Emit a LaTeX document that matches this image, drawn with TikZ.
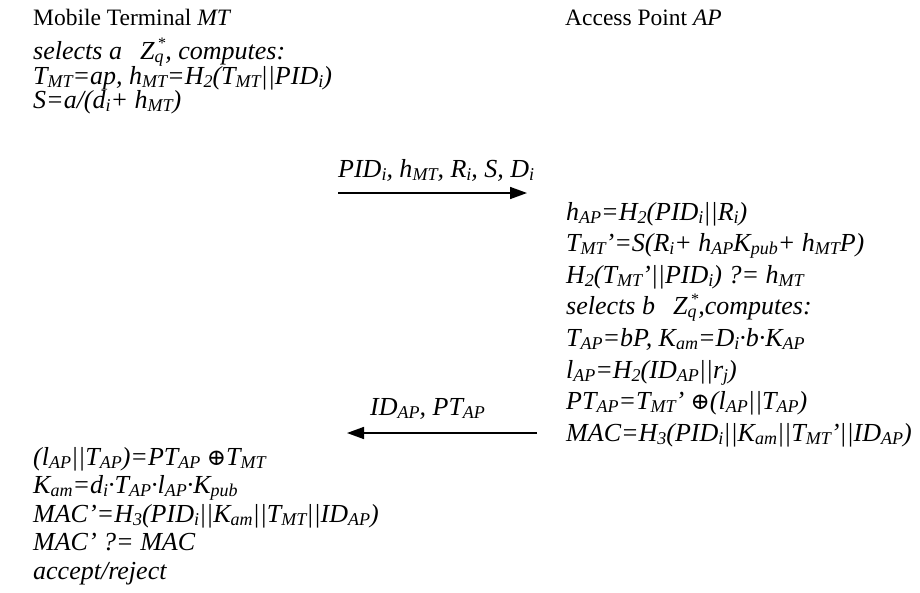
\documentclass[tikz,border=0pt]{standalone}
\usepackage{fontspec}
\setmainfont{Liberation Serif}
\newfontfamily\symf{DejaVu Serif}
\usetikzlibrary{arrows.meta}
\newcommand\lo[1]{\raisebox{-0.26ex}{\fontsize{18}{18}\selectfont #1}}
\newcommand\zq{Z\makebox[0pt][l]{\lo{q}}\raisebox{0.9ex}{\fontsize{16}{16}\selectfont\,*}}
\newcommand\oplusx{{\symf\itshape\fontsize{23}{23}\selectfont ⊕}}
\begin{document}
\begin{tikzpicture}[x=1pt,y=-1pt,
  ln/.style={anchor=base west,inner sep=0pt,font=\fontsize{26}{26}\selectfont\itshape},
  ttl/.style={anchor=base west,inner sep=0pt,font=\fontsize{23.5}{24}\selectfont},
  msg/.style={line width=1.6pt,-{Triangle[length=17pt,width=12pt]}}]
\useasboundingbox (0,0) rectangle (920,592);
\node[ttl] (tmt) at (33,25) {Mobile Terminal \textit{MT}};
\node[ttl] (tap) at (565,25) {Access Point \textit{AP}};
% MT block
\node[ln] (m1) at (33,59) {selects a\hspace{0.7em}\zq, computes:};
\node[ln] (m2) at (33,84) {T\lo{MT}=ap, h\lo{MT}=H\lo{2}(T\lo{MT}||PID\lo{i})};
\node[ln] (m3) at (33,108.5) {S=a/(d\lo{i}+ h\lo{MT})};
% message 1
\node[ln] (l1) at (338,177) {PID\lo{i}, h\lo{MT}, R\lo{i}, S, D\lo{i}};
\coordinate (a1s) at (338,193);
\coordinate (a1e) at (527,193);
\draw[msg] (a1s) -- (a1e);
% AP block
\node[ln] (p1) at (566,220) {h\lo{AP}=H\lo{2}(PID\lo{i}||R\lo{i})};
\node[ln] (p2) at (566,251.6) {T\lo{MT}’=S(R\lo{i}+ h\lo{AP}K\lo{pub}+ h\lo{MT}P)};
\node[ln] (p3) at (566,283.2) {H\lo{2}(T\lo{MT}’||PID\lo{i}) ?= h\lo{MT}};
\node[ln] (p4) at (566,314.8) {selects b\hspace{0.7em}\zq,computes:};
\node[ln] (p5) at (566,346.4) {T\lo{AP}=bP, K\lo{am}=D\lo{i}·b·K\lo{AP}};
\node[ln] (p6) at (566,378) {l\lo{AP}=H\lo{2}(ID\lo{AP}||r\lo{j})};
\node[ln] (p7) at (566,409.6) {PT\lo{AP}=T\lo{MT}’ \oplusx(l\lo{AP}||T\lo{AP})};
\node[ln] (p8) at (566,441.2) {MAC=H\lo{3}(PID\lo{i}||K\lo{am}||T\lo{MT}’||ID\lo{AP})};
% message 2
\node[ln] (l2) at (370,415) {ID\lo{AP}, PT\lo{AP}};
\coordinate (a2s) at (537,433);
\coordinate (a2e) at (347,433);
\draw[msg] (a2s) -- (a2e);
% MT final block
\node[ln] (b1) at (33,465) {(l\lo{AP}||T\lo{AP})=PT\lo{AP} \oplusx T\lo{MT}};
\node[ln] (b2) at (33,493.5) {K\lo{am}=d\lo{i}·T\lo{AP}·l\lo{AP}·K\lo{pub}};
\node[ln] (b3) at (33,522) {MAC’=H\lo{3}(PID\lo{i}||K\lo{am}||T\lo{MT}||ID\lo{AP})};
\node[ln] (b4) at (33,550.5) {MAC’ ?= MAC};
\node[ln] (b5) at (33,579) {accept/reject};
\end{tikzpicture}
\end{document}
